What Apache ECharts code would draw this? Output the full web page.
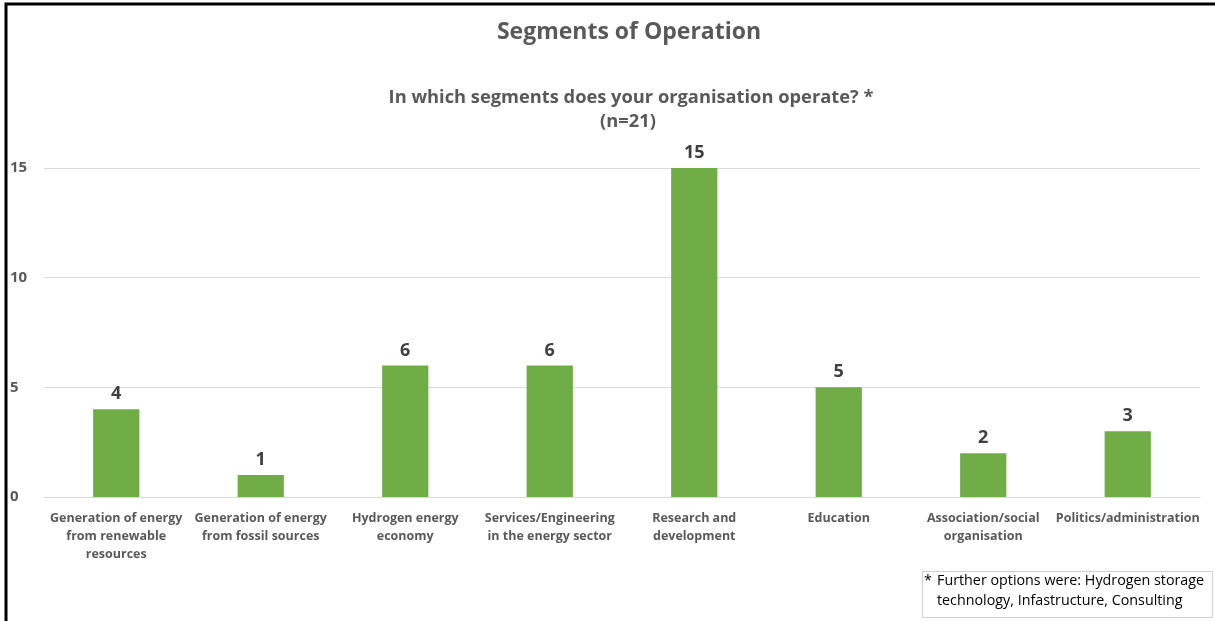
<!DOCTYPE html>
<html>
<head>
<meta charset="utf-8">
<script src="https://cdn.jsdelivr.net/npm/echarts@6/dist/echarts.min.js"></script>
<style>
  html, body { margin: 0; padding: 0; background: #fff; }
  #chart { width: 1215px; height: 621px; }
</style>
</head>
<body>
<div id="chart"></div>
<script>
// 数据
const categories = [
    'Generation of energy\nfrom renewable\nresources',
    'Generation of energy\nfrom fossil sources',
    'Hydrogen energy\neconomy',
    'Services/Engineering\nin the energy sector',
    'Research and\ndevelopment',
    'Education',
    'Association/social\norganisation',
    'Politics/administration'
];
const counts = [4, 1, 6, 6, 15, 5, 2, 3];
const yTicks = [0, 5, 10, 15];

const titleText = 'Segments of Operation';
const subtitleLines = ['In which segments does your organisation operate? *', '(n=21)'];
const noteLines = ['Further options were: Hydrogen storage', 'technology, Infastructure, Consulting'];

const FONT = '"Open Sans", sans-serif';
const GREY = '#595959';

// 标题用 graphic 画，方便放在略偏右的位置
function centerText(x, y, text, size) {
    return {
        type: 'text',
        x: x, y: y,
        style: {
            text: text,
            font: 'bold ' + size + 'px ' + FONT,
            fill: GREY,
            align: 'center',
            verticalAlign: 'middle'
        }
    };
}

var myChart = echarts.init(document.getElementById('chart'));
myChart.setOption({
    animation: false,
    backgroundColor: '#fff',
    textStyle: { fontFamily: FONT },
    grid: { left: 44, right: 15, top: 168, bottom: 124 },
    xAxis: {
        type: 'category',
        data: categories,
        axisLine: { lineStyle: { color: '#d9d9d9', width: 1 } },
        axisTick: { show: false },
        axisLabel: {
            interval: 0,
            margin: 12,
            color: GREY,
            fontFamily: FONT,
            fontSize: 12.5,
            fontWeight: 'bold',
            lineHeight: 18
        }
    },
    yAxis: {
        type: 'value',
        min: yTicks[0],
        max: yTicks[yTicks.length - 1],
        interval: 5,
        axisLine: { show: false },
        axisTick: { show: false },
        splitLine: { lineStyle: { color: '#d9d9d9', width: 1 } },
        axisLabel: {
            align: 'left',
            margin: 34,
            color: GREY,
            fontFamily: FONT,
            fontSize: 15,
            fontWeight: 'bold'
        }
    },
    series: [{
        type: 'bar',
        data: counts,
        barWidth: '32%',
        itemStyle: { color: '#70ad47' },
        label: {
            show: true,
            position: 'top',
            distance: 6,
            color: '#404040',
            fontFamily: FONT,
            fontSize: 18,
            fontWeight: 'bold'
        }
    }],
    graphic: [
        // 外框
        {
            type: 'rect',
            shape: { x: 6, y: 4, width: 1230, height: 640 },
            style: { fill: 'none', stroke: '#000', lineWidth: 3 },
            silent: true
        },
        // 标题
        centerText(629, 32, titleText, 23),
        centerText(631, 98, subtitleLines[0], 18.3),
        centerText(628, 122, subtitleLines[1], 18.3),
        // 脚注
        {
            type: 'rect',
            shape: { x: 922.5, y: 571.5, width: 290, height: 46 },
            style: { fill: '#fff', stroke: '#d0d0d0', lineWidth: 1 }
        },
        {
            type: 'text',
            x: 924, y: 574,
            style: { text: '*', font: '14.3px ' + FONT, fill: '#000' }
        },
        {
            type: 'text',
            x: 937, y: 574,
            style: { text: noteLines[0], font: '14.3px ' + FONT, fill: '#000' }
        },
        {
            type: 'text',
            x: 937, y: 594,
            style: { text: noteLines[1], font: '14.3px ' + FONT, fill: '#000' }
        }
    ]
});
window.addEventListener('resize', function () {
    myChart.resize();
});
</script>
</body>
</html>
